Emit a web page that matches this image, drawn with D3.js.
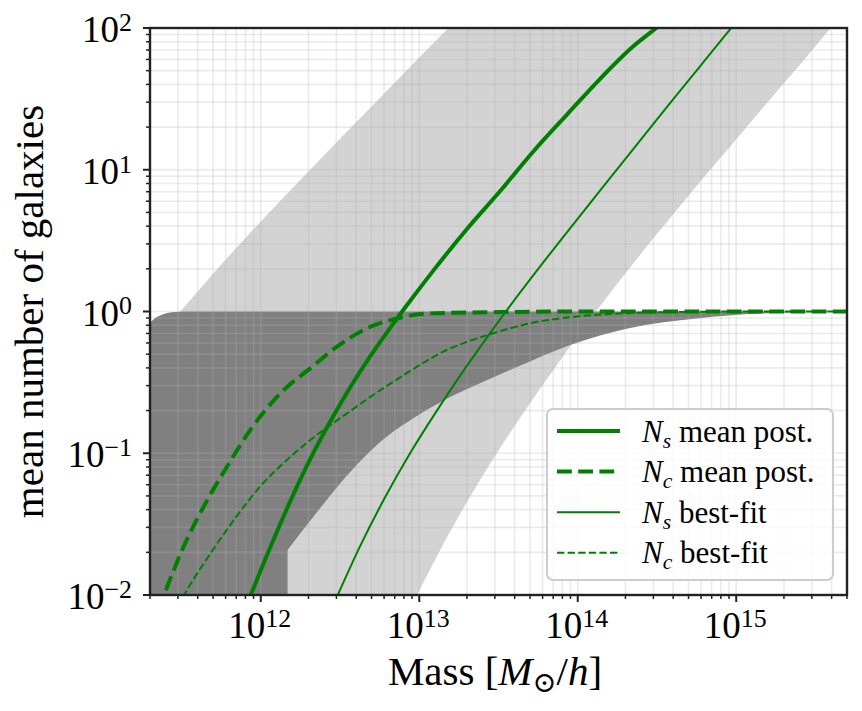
<!DOCTYPE html>
<html>
<head>
<meta charset="utf-8">
<script src="https://cdn.jsdelivr.net/npm/d3@7/dist/d3.min.js"></script>
<style>
  html, body { margin: 0; padding: 0; background: #fff; }
  svg text { font-family: "Liberation Serif", "DejaVu Serif", serif; fill: #000; }
</style>
</head>
<body>
<svg id="chart" width="862" height="711"></svg>
<script>
// Values: [halo mass (Msun/h), mean number of galaxies]
const massDomain = [2e11, 5e15];
const countDomain = [1e-2, 1e2];
const massTicks = [1e12, 1e13, 1e14, 1e15];
const countTicks = [1e-2, 1e-1, 1e0, 1e1, 1e2];

const nsMeanPost = [
  [8.65e11, 0.0100], [1.148e12, 0.0217], [1.536e12, 0.0459], [2.05e12, 0.0908],
  [2.75e12, 0.168], [3.67e12, 0.292], [4.91e12, 0.484], [6.56e12, 0.767],
  [8.77e12, 1.19], [1.23e13, 1.95], [2.0e13, 3.82], [3.24e13, 7.08],
  [5.26e13, 13.5], [8.55e13, 24.5], [1.39e14, 44.0], [2.25e14, 74.6],
  [3.13e14, 100], [4.44e14, 138]
];
const ncMeanPost = [
  [2.26e11, 0.00783], [2.52e11, 0.01084], [3.26e11, 0.0219], [4.36e11, 0.0420],
  [6.12e11, 0.0804], [8.59e11, 0.146], [1.393e12, 0.279], [2.05e12, 0.397],
  [3.03e12, 0.565], [4.46e12, 0.741], [7.23e12, 0.895], [1.175e13, 0.970],
  [3.24e13, 0.99], [1e14, 1.0], [5e15, 1.0]
];
const nsBestFit = [
  [3.06e12, 0.0100], [4.25e12, 0.0223], [6.11e12, 0.0493], [8.77e12, 0.1004],
  [1.262e13, 0.192], [1.815e13, 0.354], [2.61e13, 0.630], [3.75e13, 1.10],
  [5.40e13, 1.88], [8.59e13, 3.65], [1.39e14, 7.17], [2.24e14, 14.0],
  [3.67e14, 27.9], [5.93e14, 53.9], [9.57e14, 104], [1.42e15, 176]
];
const ncBestFit = [
  [3e11, 0.0083], [3.37e11, 0.0105], [5e11, 0.0209], [7e11, 0.0356], [1e12, 0.0589],
  [1.5e12, 0.092], [2e12, 0.121], [3.5e12, 0.191], [5e12, 0.253], [7e12, 0.324],
  [1e13, 0.417], [1.5e13, 0.537], [2e13, 0.61], [3e13, 0.708], [5e13, 0.826],
  [1e14, 0.923], [2e14, 0.973], [5e14, 0.993], [1e15, 1.0], [5e15, 1.0]
];

// satellite band (light grey) and central band (dark grey)
const nsBandUpper = [
  [2e11, 0.58], [3.1e11, 1.0], [5e11, 1.85], [1e12, 4.32], [2e12, 9.73],
  [5e12, 27.9], [1e13, 62], [1.5e13, 98], [2e13, 135], [5e15, 1e5]
];
const nsBandLower = [
  [9.76e12, 0.01016], [1.459e13, 0.0242], [1.815e13, 0.0376],
  [3.09e13, 0.1005], [4.34e13, 0.179], [6.24e13, 0.322], [8.97e13, 0.569],
  [1.321e14, 1.02], [1.766e14, 1.56], [2.60e14, 2.69], [3.66e14, 4.29],
  [5.93e14, 8.25], [9.62e14, 15.6], [1.563e15, 29.6], [3.83e15, 96.5], [5.1e15, 145]
];
const nsBandFloor = [[9.7e12, 1e-3], [2e11, 1e-3]];
const ncBandUpper = [
  [2e11, 0.834], [2.16e11, 0.90], [2.32e11, 0.938], [2.57e11, 0.976],
  [2.89e11, 0.992], [3.24e11, 1.0], [5e15, 1.0]
];
const ncBandLower = [
  [1.476e12, 0.0208], [2.24e12, 0.0379], [3.57e12, 0.0714],
  [5.76e12, 0.122], [9.44e12, 0.180], [1.524e13, 0.245], [2.43e13, 0.313],
  [4.34e13, 0.416], [8.97e13, 0.581], [2.14e14, 0.765], [5.65e14, 0.893],
  [1.42e15, 0.968], [5e15, 0.997]
];
const ncBandFloor = [[1.476e12, 1e-4], [2e11, 1e-4]];

const legendSubs = ["s", "c", "s", "c"];
const legendTexts = ["mean post.", "mean post.", "best-fit", "best-fit"];

(function() {
  const W = 862, H = 711;
  const margin = { top: 28, right: 15, bottom: 116, left: 150 };
  const green = "#008000";

  const svg = d3.select("#chart");
  const x = d3.scaleLog().domain(massDomain).range([margin.left, W - margin.right]);
  const y = d3.scaleLog().domain(countDomain).range([H - margin.bottom, margin.top]);
  const [x0, x1] = x.range();
  const [y0, y1] = [y.range()[1], y.range()[0]];

  svg.append("defs").append("clipPath").attr("id", "plot-clip")
    .append("rect").attr("x", x0).attr("y", y0).attr("width", x1 - x0).attr("height", y1 - y0);

  const line = d3.line().x(d => x(d[0])).y(d => y(d[1])).curve(d3.curveMonotoneX);
  const straight = d3.line().x(d => x(d[0])).y(d => y(d[1]));
  // upper edge left->right, lower edge right->left, then a straight floor back to the start
  function bandPath(upper, lower, floor) {
    const up = line(upper);
    const lo = line(lower.slice().reverse());
    const fl = straight(floor);
    return up + "L" + lo.slice(1) + "L" + fl.slice(1) + "Z";
  }

  const plot = svg.append("g").attr("clip-path", "url(#plot-clip)");

  // bands
  plot.append("path").attr("d", bandPath(nsBandUpper, nsBandLower, nsBandFloor)).attr("fill", "#d3d3d3");
  plot.append("path").attr("d", bandPath(ncBandUpper, ncBandLower, ncBandFloor)).attr("fill", "#808080");

  // grid (major + minor), drawn over the bands
  const grid = plot.append("g").attr("stroke", "#b0b0b0").attr("stroke-opacity", 0.25).attr("stroke-width", 1.6);
  x.ticks().forEach(t => {
    grid.append("line").attr("x1", x(t)).attr("x2", x(t)).attr("y1", y0).attr("y2", y1);
  });
  y.ticks().forEach(t => {
    grid.append("line").attr("x1", x0).attr("x2", x1).attr("y1", y(t)).attr("y2", y(t));
  });

  // curves
  const series = [
    { data: nsMeanPost, w: 4, dash: null },
    { data: ncMeanPost, w: 4, dash: "14.8,6.4" },
    { data: nsBestFit, w: 2, dash: null },
    { data: ncBestFit, w: 2, dash: "7.4,3.2" }
  ];
  series.forEach(s => {
    plot.append("path").attr("d", line(s.data))
      .attr("fill", "none").attr("stroke", green).attr("stroke-width", s.w)
      .attr("stroke-dasharray", s.dash);
  });

  // ticks
  const isMajor = v => Math.abs(Math.log10(v) - Math.round(Math.log10(v))) < 1e-9;
  const axes = svg.append("g").attr("stroke", "#222");
  x.ticks().forEach(t => {
    const len = isMajor(t) ? 7 : 4;
    axes.append("line").attr("x1", x(t)).attr("x2", x(t)).attr("y1", y1).attr("y2", y1 + len)
      .attr("stroke-width", isMajor(t) ? 2 : 1.5);
  });
  y.ticks().forEach(t => {
    const len = isMajor(t) ? 7 : 4;
    axes.append("line").attr("x1", x0 - len).attr("x2", x0).attr("y1", y(t)).attr("y2", y(t))
      .attr("stroke-width", isMajor(t) ? 2 : 1.5);
  });
  axes.append("rect").attr("x", x0).attr("y", y0).attr("width", x1 - x0).attr("height", y1 - y0)
    .attr("fill", "none").attr("stroke-width", 2.4);

  // tick labels
  const tickFont = 37;
  function powLabel(sel, v) {
    const e = Math.round(Math.log10(v));
    sel.append("tspan").text("10");
    sel.append("tspan").attr("dy", -0.3 * tickFont).attr("font-size", tickFont * 0.7)
      .text(e < 0 ? "\u2212" + (-e) : String(e));
  }
  massTicks.forEach(t => {
    const tx = svg.append("text").attr("x", x(t) - 1).attr("y", y1 + 43)
      .attr("text-anchor", "middle").style("font-size", tickFont + "px");
    powLabel(tx, t);
  });
  countTicks.forEach(t => {
    const tx = svg.append("text").attr("x", 132).attr("y", y(t) + 14)
      .attr("text-anchor", "end").style("font-size", tickFont + "px");
    powLabel(tx, t);
  });

  // axis labels
  const labelFont = 41;
  const xl = svg.append("text").attr("x", 495).attr("y", 685).attr("text-anchor", "middle")
    .style("font-size", labelFont + "px");
  xl.append("tspan").text("Mass [");
  xl.append("tspan").attr("font-style", "italic").text("M");
  xl.append("tspan").attr("dy", 7).attr("font-size", labelFont * 0.7).attr("font-family", "DejaVu Serif").text("\u2299");
  xl.append("tspan").attr("dy", -7).text("/");
  xl.append("tspan").attr("font-style", "italic").text("h");
  xl.append("tspan").text("]");

  svg.append("text").attr("transform", `translate(43,${(y0 + y1) / 2}) rotate(-90)`)
    .attr("text-anchor", "middle").style("font-size", labelFont + "px")
    .text("mean number of galaxies");

  // legend
  const legend = svg.append("g");
  legend.append("rect").attr("x", 547).attr("y", 409).attr("width", 286).attr("height", 171)
    .attr("rx", 6).attr("fill", "#fff").attr("fill-opacity", 0.8)
    .attr("stroke", "#cccccc").attr("stroke-width", 2);
  const legFont = 31;
  series.forEach((s, i) => {
    const ry = 431 + i * 40.6;
    legend.append("line").attr("x1", 557).attr("x2", 620).attr("y1", ry).attr("y2", ry)
      .attr("stroke", green).attr("stroke-width", s.w).attr("stroke-dasharray", s.dash);
    const t = legend.append("text").attr("x", 642).attr("y", ry + 10.5).style("font-size", legFont + "px");
    t.append("tspan").attr("font-style", "italic").text("N");
    t.append("tspan").attr("font-style", "italic").attr("font-size", legFont * 0.7).attr("dy", 6).text(legendSubs[i]);
    t.append("tspan").attr("dy", -6).text("\u00a0" + legendTexts[i]);
  });
})();
</script>
</body>
</html>
